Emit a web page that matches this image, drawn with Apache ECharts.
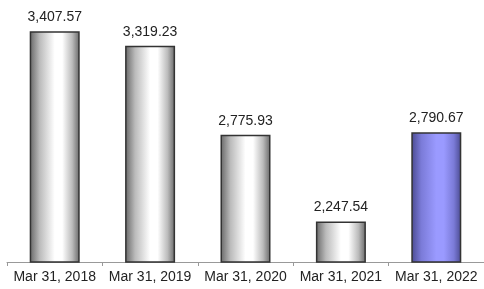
<!DOCTYPE html>
<html>
<head>
<meta charset="utf-8">
<script src="https://cdn.jsdelivr.net/npm/echarts@6/dist/echarts.min.js"></script>
<style>
  html, body { margin: 0; padding: 0; background: #fff; }
  #main { width: 484px; height: 289px; }
</style>
</head>
<body>
<div id="main"></div>
<script>
var categories = ['Mar 31, 2018', 'Mar 31, 2019', 'Mar 31, 2020', 'Mar 31, 2021', 'Mar 31, 2022'];
var values = [3407.57, 3319.23, 2775.93, 2247.54, 2790.67];
var highlight = [false, false, false, false, true];

var chart = echarts.init(document.getElementById('main'));

function grayFill() {
    return new echarts.graphic.LinearGradient(0, 0, 1, 0, [
        {offset: 0, color: '#666666'},
        {offset: 0.2, color: '#bbbbbb'},
        {offset: 0.5, color: '#ffffff'},
        {offset: 0.65, color: '#ffffff'},
        {offset: 0.85, color: '#bbbbbb'},
        {offset: 1, color: '#666666'}
    ]);
}
function blueFill() {
    return new echarts.graphic.LinearGradient(0, 0, 1, 0, [
        {offset: 0, color: '#4a4a90'},
        {offset: 0.2, color: '#7b7bd8'},
        {offset: 0.5, color: '#9a9aff'},
        {offset: 0.65, color: '#9a9aff'},
        {offset: 0.85, color: '#7b7bd8'},
        {offset: 1, color: '#4a4a90'}
    ]);
}

var seriesData = values.map(function (v, i) {
    return {
        value: v,
        itemStyle: {
            color: highlight[i] ? blueFill() : grayFill()
        }
    };
});

var option = {
    backgroundColor: '#fff',
    animation: false,
    grid: {
        left: 7,
        right: 0,
        top: 16,
        bottom: 27
    },
    xAxis: {
        type: 'category',
        data: categories,
        axisLine: {lineStyle: {color: '#999', width: 1}},
        axisTick: {show: true, length: 4, lineStyle: {color: '#999'}},
        axisLabel: {
            color: '#222',
            fontFamily: 'Liberation Sans, Arial, sans-serif',
            fontSize: 14,
            margin: 8,
            interval: 0
        }
    },
    yAxis: {
        type: 'value',
        min: 2000,
        max: 3500,
        show: false,
        splitLine: {show: false}
    },
    series: [{
        type: 'bar',
        data: seriesData,
        barWidth: 50,
        itemStyle: {
            borderColor: '#333',
            borderWidth: 1.5
        },
        label: {
            show: true,
            position: 'top',
            distance: 7,
            color: '#222',
            fontFamily: 'Liberation Sans, Arial, sans-serif',
            fontSize: 14,
            formatter: function (p) {
                return p.value.toLocaleString('en-US', {minimumFractionDigits: 2, maximumFractionDigits: 2});
            }
        }
    }]
};

chart.setOption(option);
</script>
</body>
</html>
